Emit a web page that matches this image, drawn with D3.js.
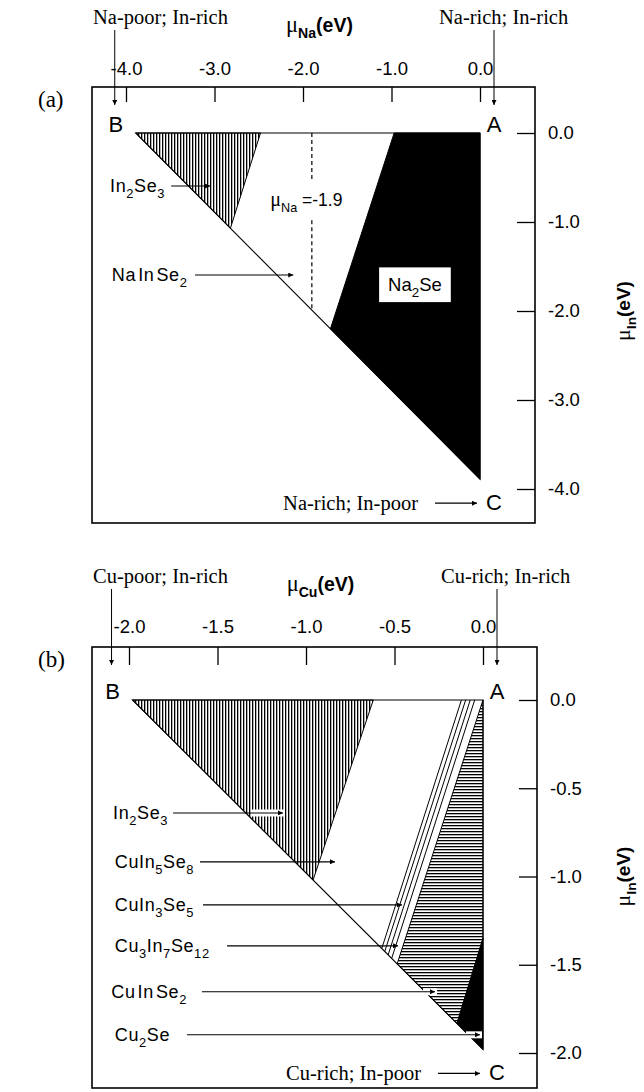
<!DOCTYPE html>
<html>
<head>
<meta charset="utf-8">
<title>Stability triangles, Na-In-Se and Cu-In-Se</title>
<script src="https://cdn.jsdelivr.net/npm/d3@7"></script>
<style>
  body { margin: 0; padding: 0; background: #fff; }
  .tick line { stroke: #000; stroke-width: 1.3; }
  .tick text { font-family: "Liberation Sans", Arial, sans-serif; font-size: 18.5px; fill: #000; }
  .sans { font-family: "Liberation Sans", Arial, sans-serif; }
  .serif { font-family: "Liberation Serif", "Times New Roman", serif; }
</style>
</head>
<body>
<svg id="svg" width="644" height="1092"></svg>
<script>
// ---- panel (a): points are [muNa, muIn] in eV
const naTicks = [-4, -3, -2, -1, 0];
const inTicksA = [0, -1, -2, -3, -4];
const triA = [[-3.89, 0], [0, 0], [0, -3.89]];
const in2se3A = [[-3.89, 0], [-2.48, 0], [-2.82, -1.07]];
const na2seA = [[-0.97, 0], [0, 0], [0, -3.89], [-1.69, -2.2]];
const naCut = -1.9;
const naCutSegs = [[0, -0.55], [-0.98, -1.99]];

// ---- panel (b): points are [muCu, muIn] in eV
const cuTicks = [-2, -1.5, -1, -0.5, 0];
const inTicksB = [0, -0.5, -1, -1.5, -2];
const triB = [[-1.98, 0], [0, 0], [0, -1.98]];
const in2se3B = [[-1.98, 0], [-0.62, 0], [-0.96, -1.02]];
const bandLinesB = [
  [[-0.122, 0], [-0.572, -1.408]],
  [[-0.098, 0], [-0.555, -1.425]],
  [[-0.072, 0], [-0.536, -1.444]],
  [[-0.047, 0], [-0.516, -1.464]]
];
const cuinse2B = [[0, 0], [0, -1.35], [-0.147, -1.833], [-0.485, -1.495]];
const cu2seB = [[0, -1.35], [0, -1.98], [-0.147, -1.833]];

// labels with arrows: text start, arrow height, arrow from/to (all eV)
const labelsA = [
  { parts: [["In"], ["2", 1], ["Se"], ["3", 1]], tx: -4.18, my: -0.596, from: -3.49, to: -3.05 },
  { parts: [["Na\u200aIn\u200aSe"], ["2", 1]], tx: -4.16, my: -1.596, from: -3.22, to: -2.11 }
];
const labelsB = [
  { parts: [["In"], ["2", 1], ["Se"], ["3", 1]], tx: -2.09, my: -0.64, from: -1.751, to: -1.13, halo: 32 },
  { parts: [["CuIn"], ["5", 1], ["Se"], ["8", 1]], tx: -2.08, my: -0.917, from: -1.599, to: -0.836 },
  { parts: [["CuIn"], ["3", 1], ["Se"], ["5", 1]], tx: -2.08, my: -1.161, from: -1.582, to: -0.458 },
  { parts: [["Cu"], ["3", 1], ["In"], ["7", 1], ["Se"], ["12", 1]], tx: -2.08, my: -1.393, from: -1.446, to: -0.48 },
  { parts: [["Cu\u200aIn\u200aSe"], ["2", 1]], tx: -2.10, my: -1.653, from: -1.588, to: -0.271, halo: 12 },
  { parts: [["Cu"], ["2", 1], ["Se"]], tx: -2.08, my: -1.897, from: -1.672, to: -0.017, halo: 14 }
];

const svg = d3.select("#svg");
const defs = svg.append("defs");
defs.append("pattern").attr("id", "vhatch").attr("patternUnits", "userSpaceOnUse")
  .attr("width", 3).attr("height", 6)
  .append("rect").attr("width", 1.3).attr("height", 6).attr("fill", "#000");
defs.append("pattern").attr("id", "hhatch").attr("patternUnits", "userSpaceOnUse")
  .attr("width", 6).attr("height", 3)
  .append("rect").attr("width", 6).attr("height", 1.3).attr("fill", "#000");
defs.append("marker").attr("id", "head").attr("viewBox", "0 0 10 10")
  .attr("refX", 10).attr("refY", 5).attr("markerWidth", 8).attr("markerHeight", 5)
  .attr("markerUnits", "userSpaceOnUse").attr("orient", "auto")
  .append("path").attr("d", "M0,0L10,5L0,10Z").attr("fill", "#000");

// text with subscripts; parts = [[str, isSub, style]]
function rich(g, x, y, parts, size, opts) {
  opts = opts || {};
  const t = g.append("text").attr("x", x).attr("y", y)
    .attr("class", opts.cls || "sans").attr("font-size", size)
    .attr("text-anchor", opts.anchor || "start")
    .attr("letter-spacing", opts.ls || 0);
  if (opts.rotate) t.attr("transform", `rotate(-90,${x},${y})`);
  let off = 0;
  parts.forEach(p => {
    const target = p[1] ? size * 0.32 : 0;
    const ts = t.append("tspan").text(p[0]).attr("dy", target - off)
      .attr("font-size", p[1] ? size * 0.72 : size);
    if (p[2] === "mu") ts.attr("class", "serif").attr("font-weight", "normal").attr("font-size", size * 1.15);
    if (p[2] === "b") ts.attr("font-weight", "bold");
    off = target;
  });
  return t;
}

function arrow(g, x1, y1, x2, y2, w) {
  g.append("line").attr("x1", x1).attr("y1", y1).attr("x2", x2).attr("y2", y2)
    .attr("stroke", "#000").attr("stroke-width", w || 1.1).attr("marker-end", "url(#head)");
}

function drawPanel(p) {
  const g = svg.append("g");
  const x = p.x, y = p.y, f = p.frame;
  const line = d3.line().x(d => x(d[0])).y(d => y(d[1]));
  const poly = pts => line(pts) + "Z";

  // top axis (ticks inside, labels above)
  g.append("g").attr("transform", `translate(0,${f.t})`)
    .call(d3.axisTop(x).tickValues(p.xTicks).tickSizeInner(-p.xTickLen).tickSizeOuter(0)
      .tickPadding(p.xPad).tickFormat(d => d.toFixed(1)))
    .call(a => a.select(".domain").remove());

  // right axis
  g.append("g").attr("transform", `translate(${f.r},0)`)
    .call(d3.axisRight(y).tickValues(p.yTicks).tickSizeInner(-18).tickSizeOuter(0)
      .tickPadding(13).tickFormat(d => d.toFixed(1)))
    .call(a => a.select(".domain").remove());

  g.append("rect").attr("x", f.l).attr("y", f.t).attr("width", f.r - f.l).attr("height", f.b - f.t)
    .attr("fill", "none").attr("stroke", "#000").attr("stroke-width", 1.6);

  p.draw(g, x, y, line, poly);

  // triangle outline
  g.append("path").attr("d", poly(p.tri)).attr("fill", "none")
    .attr("stroke", "#000").attr("stroke-width", 1.1);

  // arrow labels
  p.labels.forEach(l => {
    const ay = y(l.my);
    if (l.halo) {
      g.append("line").attr("x1", x(l.to) - l.halo).attr("x2", x(l.to) + 2)
        .attr("y1", ay).attr("y2", ay).attr("stroke", "#fff").attr("stroke-width", 7);
    }
    arrow(g, x(l.from), ay, x(l.to), ay);
    rich(g, x(l.tx), ay + 6, l.parts, 18, { ls: 0.6 });
  });

  // corner letters
  const B = p.tri[0], C = p.tri[2];
  g.append("text").attr("class", "sans").attr("font-size", 22).attr("text-anchor", "middle")
    .attr("x", x(B[0]) - 20).attr("y", y(0) - 1).text("B");
  g.append("text").attr("class", "sans").attr("font-size", 22).attr("text-anchor", "middle")
    .attr("x", x(0) + 14).attr("y", y(0) - 1).text("A");
  g.append("text").attr("class", "sans").attr("font-size", 22).attr("text-anchor", "middle")
    .attr("x", x(0) + 14).attr("y", y(C[1]) + 31).text("C");

  // corner captions and arrows
  const capY = y(C[1]) + 31;
  g.append("text").attr("class", "serif").attr("font-size", 20.5).attr("text-anchor", "end")
    .attr("x", x(0) - 62).attr("y", capY).text(p.el + "-rich; In-poor");
  arrow(g, x(0) - 45, capY - 7, x(0) - 3, capY - 7, 1.2);

  g.append("text").attr("class", "serif").attr("font-size", 20.5)
    .attr("x", f.l + 1).attr("y", p.capTop).text(p.el + "-poor; In-rich");
  g.append("text").attr("class", "serif").attr("font-size", 20.5)
    .attr("x", f.r - 96).attr("y", p.capTop).text(p.el + "-rich; In-rich");
  arrow(g, x(B[0]) - 21, p.capTop + 6, x(B[0]) - 21, f.t + 18, 1);
  arrow(g, x(0) + 14, p.capTop + 6, x(0) + 14, f.t + 18, 1);

  // axis titles
  rich(g, (f.l + f.r) / 2 + 6, p.capTop + 8, [["\u03bc", 0, "mu"], [p.el, 1, "b"], ["(eV)", 0, "b"]], 19.5,
    { anchor: "middle" });
  rich(g, 630, (y(p.yTicks[0]) + y(p.yTicks[p.yTicks.length - 1])) / 2, [["\u03bc", 0, "mu"], ["In", 1, "b"], ["(eV)", 0, "b"]], 19,
    { anchor: "middle", rotate: true });

  g.append("text").attr("class", "serif").attr("font-size", 23)
    .attr("x", 38).attr("y", f.t + 20).text(p.name);
}

drawPanel({
  name: "(a)", el: "Na",
  x: d3.scaleLinear().domain([-4, 0]).range([126, 480]),
  y: d3.scaleLinear().domain([0, -4]).range([133, 489]),
  frame: { l: 92, t: 87, r: 535, b: 523 },
  xTicks: naTicks, yTicks: inTicksA, xTickLen: 15, xPad: 12, capTop: 24,
  tri: triA, labels: labelsA,
  draw: (g, x, y, line, poly) => {
    g.append("path").attr("d", poly(in2se3A)).attr("fill", "url(#vhatch)")
      .attr("stroke", "#000").attr("stroke-width", 1);
    g.append("path").attr("d", poly(na2seA)).attr("fill", "#000").attr("stroke", "#000");
    naCutSegs.forEach(s => {
      g.append("line").attr("x1", x(naCut)).attr("x2", x(naCut))
        .attr("y1", y(s[0])).attr("y2", y(s[1]))
        .attr("stroke", "#000").attr("stroke-width", 1.2).attr("stroke-dasharray", "4,3");
    });
    rich(g, x(-2.37), y(-0.753) + 6, [["\u03bc", 0, "mu"], ["Na", 1], [" =-1.9"]], 17.5);
    const bx = [-1.14, -0.33], by = [-1.51, -1.9];
    g.append("rect").attr("x", x(bx[0])).attr("y", y(by[0]))
      .attr("width", x(bx[1]) - x(bx[0])).attr("height", y(by[1]) - y(by[0])).attr("fill", "#fff");
    rich(g, x((bx[0] + bx[1]) / 2), y((by[0] + by[1]) / 2) + 6, [["Na"], ["2", 1], ["Se"]], 18.5,
      { anchor: "middle" });
  }
});

drawPanel({
  name: "(b)", el: "Cu",
  x: d3.scaleLinear().domain([-2, 0]).range([129, 483]),
  y: d3.scaleLinear().domain([0, -2]).range([700, 1053]),
  frame: { l: 92, t: 647, r: 537, b: 1088 },
  xTicks: cuTicks, yTicks: inTicksB, xTickLen: 18, xPad: 14, capTop: 583,
  tri: triB, labels: labelsB,
  draw: (g, x, y, line, poly) => {
    g.append("path").attr("d", poly(in2se3B)).attr("fill", "url(#vhatch)")
      .attr("stroke", "#000").attr("stroke-width", 1);
    g.append("path").attr("d", poly(cuinse2B)).attr("fill", "url(#hhatch)")
      .attr("stroke", "#000").attr("stroke-width", 1);
    g.append("path").attr("d", poly(cu2seB)).attr("fill", "#000").attr("stroke", "#000");
    bandLinesB.forEach(l => {
      g.append("path").attr("d", line(l)).attr("fill", "none")
        .attr("stroke", "#000").attr("stroke-width", 1);
    });
  }
});
</script>
</body>
</html>
